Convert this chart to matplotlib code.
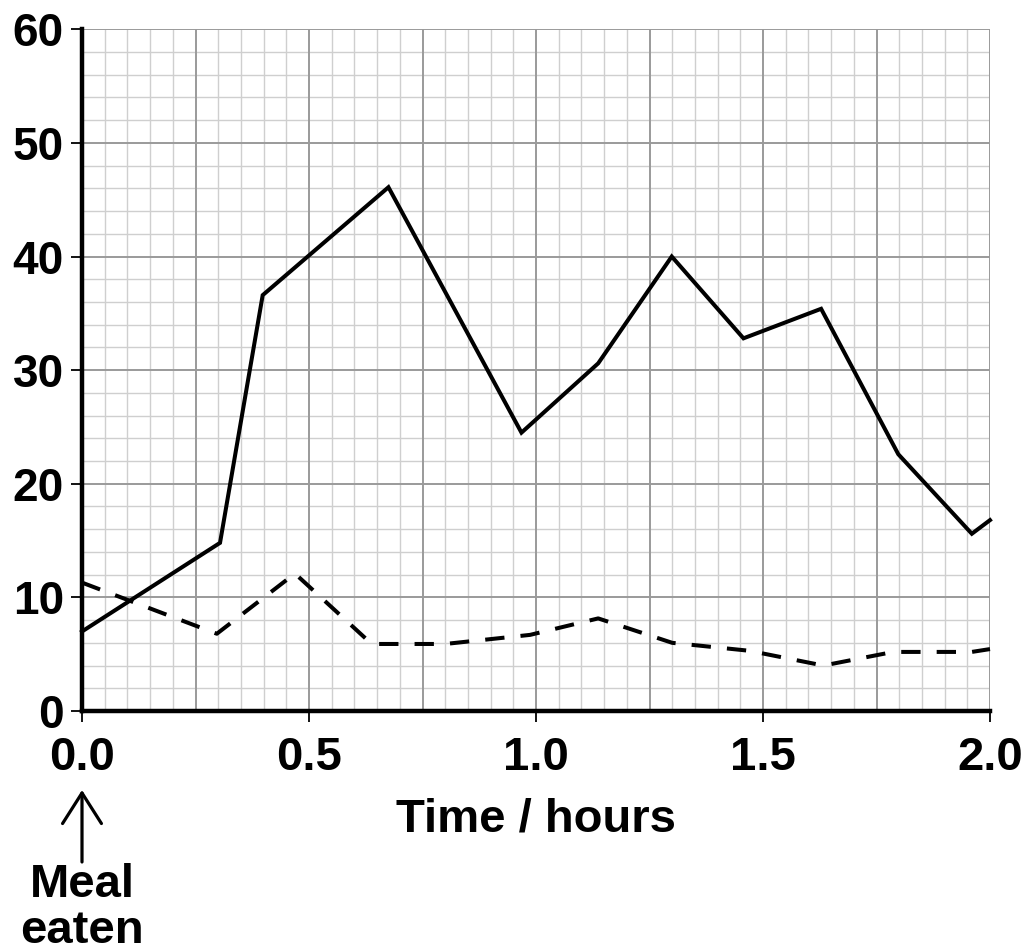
import matplotlib
matplotlib.use("Agg")
import matplotlib.pyplot as plt
import matplotlib.transforms as mtransforms
from matplotlib.ticker import MultipleLocator

# ---- data ----
solid_x = [0.0, 0.304, 0.398, 0.675, 0.968, 1.137, 1.299, 1.457, 1.628, 1.798, 1.960, 2.0]
solid_y = [7.0, 14.8, 36.6, 46.1, 24.5, 30.6, 40.0, 32.8, 35.4, 22.6, 15.6, 16.8]

dashed_x = [0.0, 0.297, 0.469, 0.638, 0.80, 0.987, 1.137, 1.30, 1.47, 1.633, 1.787, 1.96, 2.0]
dashed_y = [11.3, 6.8, 12.1, 5.9, 5.9, 6.7, 8.15, 6.0, 5.3, 4.0, 5.2, 5.2, 5.45]

x_ticks = [0.0, 0.5, 1.0, 1.5, 2.0]
x_tick_labels = ["0.0", "0.5", "1.0", "1.5", "2.0"]
y_ticks = [0, 10, 20, 30, 40, 50, 60]
y_tick_labels = ["0", "10", "20", "30", "40", "50", "60"]

x_label = "Time / hours"
note_line1 = "Meal"
note_line2 = "eaten"

plt.rcParams['font.family'] = ['Liberation Sans', 'DejaVu Sans']
plt.rcParams['font.weight'] = 'bold'

W, H = 1027, 951
fig = plt.figure(figsize=(W / 100, H / 100), dpi=100)
ax = fig.add_axes([82 / W, 1 - 711 / H, (990 - 82) / W, (711 - 29.3) / H])

ax.set_xlim(0, 2.0)
ax.set_ylim(0, 60)

# graph-paper grid
ax.xaxis.set_minor_locator(MultipleLocator(0.05))
ax.yaxis.set_minor_locator(MultipleLocator(2))
for i in range(41):
    xv = i * 0.05
    major = i % 5 == 0
    ax.axvline(xv, color='#9a9a9a' if major else '#cfcfcf', lw=1.4 if major else 1.0,
               zorder=0.5 if major else 0.3)
for yv in range(0, 61, 2):
    major = yv % 10 == 0
    ax.axhline(yv, color='#9a9a9a' if major else '#cfcfcf', lw=1.4 if major else 1.0,
               zorder=0.5 if major else 0.3)

ax.plot(solid_x, solid_y, color='black', lw=2.9, solid_joinstyle='miter', zorder=3, clip_on=False)
ax.plot(dashed_x, dashed_y, color='black', lw=2.9, dashes=(4.8, 4.0), zorder=3, clip_on=False)

ax.set_xticks(x_ticks)
ax.set_xticklabels(x_tick_labels)
ax.set_yticks(y_ticks)
ax.set_yticklabels(y_tick_labels)
ax.tick_params(which='minor', length=0)
ax.tick_params(axis='x', which='major', direction='out', length=8, width=1.3, pad=10, labelsize=34)
ax.tick_params(axis='y', which='major', direction='out', length=8, width=1.3, pad=5, labelsize=33)
for lab in ax.get_xticklabels() + ax.get_yticklabels():
    lab.set_fontweight('bold')

for s in ['top', 'right']:
    ax.spines[s].set_visible(False)
for s in ['left', 'bottom']:
    ax.spines[s].set_linewidth(3.2)
    ax.spines[s].set_color('black')
    ax.spines[s].set_zorder(4)

ax.text(0.5, 1 - 832 / H, x_label,
        transform=mtransforms.blended_transform_factory(ax.transAxes, fig.transFigure),
        ha='center', va='baseline', fontsize=34, fontweight='bold')

# "Meal eaten" annotation
ax.annotate('', xy=(0, H - 790), xycoords=('data', 'figure pixels'),
            xytext=(0, H - 862), textcoords=('data', 'figure pixels'),
            arrowprops=dict(arrowstyle='->,head_length=1.1,head_width=0.7', lw=2.3,
                            color='black', shrinkA=0, shrinkB=0, mutation_scale=20),
            annotation_clip=False)
tr = mtransforms.blended_transform_factory(ax.transData, fig.transFigure)
ax.text(0, 1 - 897 / H, note_line1, transform=tr,
        ha='center', va='baseline', fontsize=34, fontweight='bold')
ax.text(0, 1 - 943 / H, note_line2, transform=tr,
        ha='center', va='baseline', fontsize=34, fontweight='bold')

fig.savefig('out.png', dpi=100)
